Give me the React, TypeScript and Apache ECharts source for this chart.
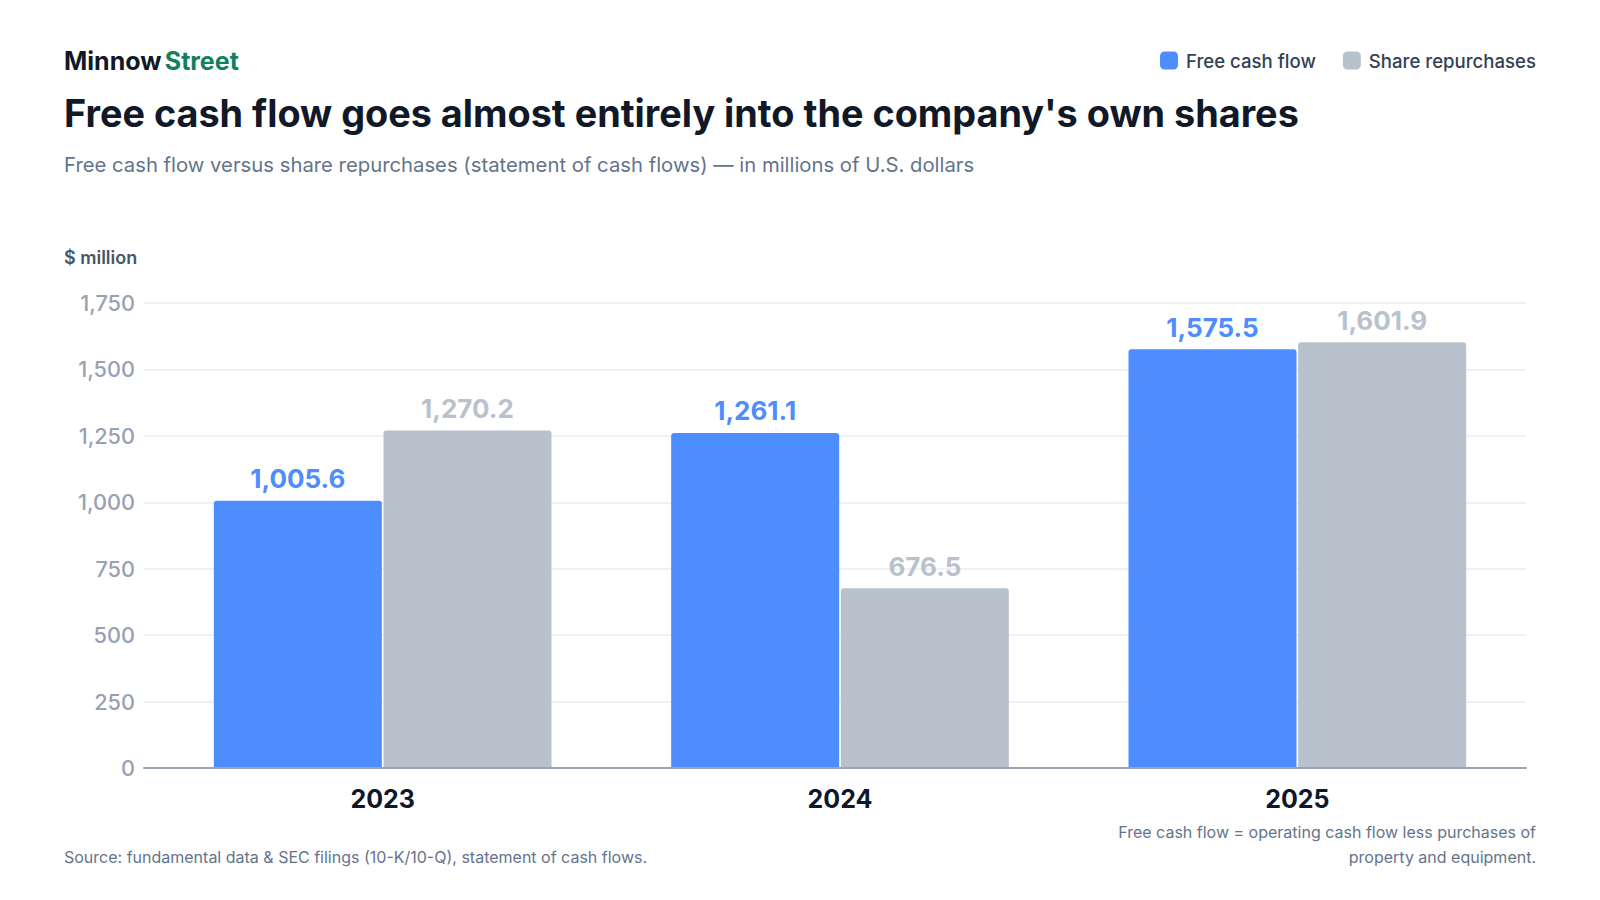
import React, { useEffect, useRef } from "react";
import * as echarts from "echarts";

const categories = ["2023", "2024", "2025"];
const freeCashFlow = [1005.6, 1261.1, 1575.5];
const shareRepurchases = [1270.2, 676.5, 1601.9];
const yTicks = { min: 0, max: 1750, interval: 250 };
const seriesNames = ["Free cash flow", "Share repurchases"];

const BLUE = "#4d8dfe";
const GREY = "#b8c2cd";
const FONT = "Inter, 'Noto Sans', sans-serif";

const fmt = (v: number) =>
  v.toLocaleString("en-US", { minimumFractionDigits: 1, maximumFractionDigits: 1 });

export default function App() {
  const ref = useRef<HTMLDivElement>(null);
  useEffect(() => {
    if (!ref.current) return;
    const chart = echarts.init(ref.current, undefined, { renderer: "svg" });
    const top = 303;
    const bottom = 132;
    const barLabel = (color: string) => ({
      show: true,
      position: "top",
      distance: 9,
      fontSize: 26,
      fontWeight: 700,
      color,
      fontFamily: FONT,
      formatter: (p: any) => fmt(p.value),
    });
    chart.setOption({
      animation: false,
      backgroundColor: "#ffffff",
      textStyle: { fontFamily: FONT },
      legend: {
        data: seriesNames,
        right: 64,
        top: 51,
        padding: 0,
        icon: "roundRect",
        itemWidth: 18,
        itemHeight: 18,
        itemGap: 27,
        textStyle: { fontSize: 18.6, color: "#334155", fontWeight: 500, fontFamily: FONT, padding: [0, 0, 0, 3] },
      },
      grid: [
        { left: 144, right: 74, top, bottom },
        { left: 154, right: 74, top, bottom },
      ],
      xAxis: [
        {
          gridIndex: 0,
          type: "value",
          min: 0,
          max: 1,
          z: 5,
          axisLine: { show: true, onZero: false, lineStyle: { color: "#9aa3b4", width: 2 } },
          axisTick: { show: false },
          axisLabel: { show: false },
          splitLine: { show: false },
        },
        {
          gridIndex: 1,
          type: "category",
          data: categories,
          axisLine: { show: false },
          axisTick: { show: false },
          axisLabel: { fontSize: 25, fontWeight: 700, color: "#0f172a", margin: 18, fontFamily: FONT },
        },
      ],
      yAxis: [
        {
          gridIndex: 0,
          type: "value",
          min: yTicks.min,
          max: yTicks.max,
          interval: yTicks.interval,
          axisLine: { show: false },
          axisTick: { show: false },
          axisLabel: {
            fontSize: 21.7,
            fontWeight: 500,
            color: "#97a1b3",
            margin: 9,
            fontFamily: FONT,
            formatter: (v: number) => v.toLocaleString("en-US"),
          },
          splitLine: { show: true, lineStyle: { color: "#e9edf2", width: 1.5 } },
        },
        {
          gridIndex: 1,
          type: "value",
          min: yTicks.min,
          max: yTicks.max,
          interval: yTicks.interval,
          show: false,
          splitLine: { show: false },
        },
      ],
      series: [
        {
          name: seriesNames[0],
          type: "bar",
          xAxisIndex: 1,
          yAxisIndex: 1,
          data: freeCashFlow,
          barWidth: 168,
          barGap: "1%",
          itemStyle: { color: BLUE, borderRadius: [3, 3, 0, 0] },
          label: barLabel(BLUE),
        },
        {
          name: seriesNames[1],
          type: "bar",
          xAxisIndex: 1,
          yAxisIndex: 1,
          data: shareRepurchases,
          barWidth: 168,
          barGap: "1%",
          itemStyle: { color: GREY, borderRadius: [3, 3, 0, 0] },
          label: barLabel(GREY),
        },
      ],
      graphic: [
        {
          type: "text",
          left: 64,
          top: 48,
          style: {
            rich: {
              a: { fontSize: 25, fontWeight: 700, fill: "#111827", fontFamily: FONT },
              b: { fontSize: 25, fontWeight: 700, fill: "#12805c", fontFamily: FONT },
            },
            text: "{a|Minnow} {b|Street}",
          },
        },
        {
          type: "text",
          left: 64,
          top: 94,
          style: {
            text: "Free cash flow goes almost entirely into the company's own shares",
            fontSize: 37.8,
            fontWeight: 700,
            fill: "#111827",
            fontFamily: FONT,
          },
        },
        {
          type: "text",
          left: 64,
          top: 154,
          style: {
            text: "Free cash flow versus share repurchases (statement of cash flows) — in millions of U.S. dollars",
            fontSize: 20.3,
            fill: "#64748b",
            fontFamily: FONT,
          },
        },
        {
          type: "text",
          left: 64,
          top: 248,
          style: {
            text: "$ million",
            fontSize: 18,
            fontWeight: 600,
            fill: "#475569",
            fontFamily: FONT,
          },
        },
        {
          type: "text",
          left: 64,
          top: 849,
          style: {
            text: "Source: fundamental data & SEC filings (10-K/10-Q), statement of cash flows.",
            fontSize: 16,
            fill: "#64748b",
            fontFamily: FONT,
          },
        },
        {
          type: "text",
          right: 64,
          top: 824,
          style: {
            text: "Free cash flow = operating cash flow less purchases of",
            fontSize: 16,
            fill: "#64748b",
            fontFamily: FONT,
          },
        },
        {
          type: "text",
          right: 64,
          top: 849,
          style: {
            text: "property and equipment.",
            fontSize: 16,
            fill: "#64748b",
            fontFamily: FONT,
          },
        },
      ],
    });
    return () => chart.dispose();
  }, []);
  return <div ref={ref} style={{ width: 1600, height: 900, margin: -8 }} />;
}
